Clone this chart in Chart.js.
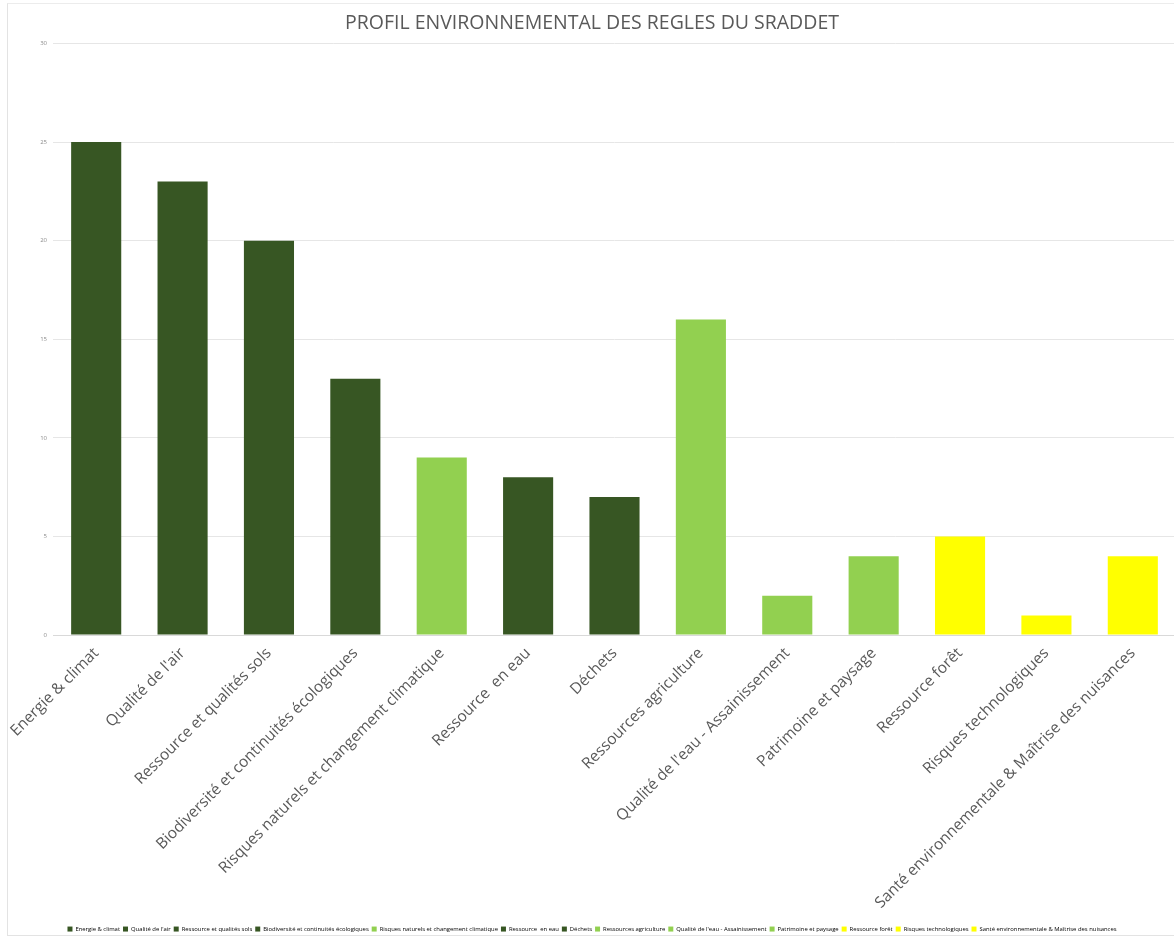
<!DOCTYPE html>
<html>
<head>
<meta charset="utf-8">
<script src="https://cdn.jsdelivr.net/npm/chart.js@4/dist/chart.umd.min.js"></script>
<style>
  html, body { margin: 0; padding: 0; background: #fff; overflow: hidden; }
  #wrap {
    position: absolute; left: 7px; top: 3px; width: 1168px; height: 931px;
    border-left: 1px solid #e3e3e3; border-top: 1px solid #ececec; border-bottom: 1px solid #e3e3e3;
  }
</style>
</head>
<body>
<div id="wrap"><canvas id="chart"></canvas></div>
<script>
// ===== data =====
const categories = [
  'Energie & climat',
  "Qualité de l'air",
  'Ressource et qualités sols',
  'Biodiversité et continuités écologiques',
  'Risques naturels et changement climatique',
  'Ressource  en eau',
  'Déchets',
  'Ressources agriculture',
  "Qualité de l'eau - Assainissement",
  'Patrimoine et paysage',
  'Ressource forêt',
  'Risques technologiques',
  'Santé environnementale & Maîtrise des nuisances'
];
const values = [25, 23, 20, 13, 9, 8, 7, 16, 2, 4, 5, 1, 4];
const groups = ['dark', 'dark', 'dark', 'dark', 'light', 'dark', 'dark', 'light', 'light', 'light', 'yellow', 'yellow', 'yellow'];
const yTicks = [0, 5, 10, 15, 20, 25, 30];

const palette = { dark: '#375623', light: '#92D050', yellow: '#FFFF00' };
const barColors = groups.map(g => palette[g]);

// ===== chart =====
new Chart(document.getElementById('chart'), {
  type: 'bar',
  data: {
    labels: categories,
    datasets: [{
      label: 'Règles',
      data: values,
      backgroundColor: barColors,
      categoryPercentage: 1,
      barPercentage: 0.58
    }]
  },
  options: {
    responsive: true,
    maintainAspectRatio: false,
    animation: false,
    layout: { padding: { left: 0, right: 0, top: 0, bottom: -7 } },
    plugins: {
      title: {
        display: true,
        text: 'PROFIL ENVIRONNEMENTAL DES REGLES DU SRADDET',
        color: '#595959',
        font: { family: 'Open Sans', size: 19.5, weight: 'normal' },
        padding: { top: 8, bottom: 8 }
      },
      legend: {
        position: 'bottom',
        labels: {
          boxWidth: 5,
          boxHeight: 5,
          padding: 3,
          color: '#595959',
          font: { family: 'Open Sans', size: 5.9 },
          generateLabels: chart => categories.map((c, i) => ({
            text: c,
            fillStyle: barColors[i],
            strokeStyle: barColors[i],
            lineWidth: 0,
            index: i,
            datasetIndex: 0
          }))
        }
      },
      tooltip: { enabled: false }
    },
    scales: {
      x: {
        grid: { display: false },
        border: { color: '#d9d9d9' },
        ticks: {
          color: '#595959',
          font: { family: 'Open Sans', size: 15.5 },
          maxRotation: 45,
          minRotation: 45,
          autoSkip: false,
          padding: 1
        },
        afterFit: scale => { scale.height = 288; }
      },
      y: {
        min: 0,
        max: 30,
        afterBuildTicks: scale => { scale.ticks = yTicks.map(v => ({ value: v })); },
        grid: { color: '#e6e6e6', drawTicks: false },
        border: { display: false },
        ticks: {
          color: '#8c8c8c',
          font: { family: 'Open Sans', size: 6 },
          padding: 6
        },
        afterFit: scale => { scale.width = 45; }
      }
    }
  }
});
</script>
</body>
</html>
